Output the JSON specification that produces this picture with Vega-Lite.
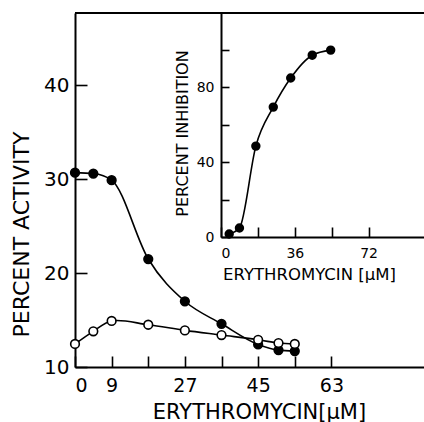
{
  "$schema": "https://vega.github.io/schema/vega-lite/v6.json",
  "padding": {"left": 10, "top": 12, "right": 0, "bottom": 0},
  "width": 350,
  "height": 354,
  "background": "white",
  "view": {"stroke": null},
  "config": {
    "font": "DejaVu Sans",
    "view": {"stroke": null},
    "axis": {
      "domainColor": "black", "domainWidth": 2, "tickColor": "black", "tickWidth": 1.6,
      "labelColor": "black", "titleColor": "black", "grid": false,
      "labelFont": "DejaVu Sans", "titleFont": "DejaVu Sans", "titleFontWeight": "normal"
    }
  },
  "layer": [
    {
      "data": {"values": [
        {"conc": 0, "activity": 30.7, "series": "closed"},
        {"conc": 4.5, "activity": 30.6, "series": "closed"},
        {"conc": 9, "activity": 29.9, "series": "closed"},
        {"conc": 18, "activity": 21.5, "series": "closed"},
        {"conc": 27, "activity": 17.0, "series": "closed"},
        {"conc": 36, "activity": 14.6, "series": "closed"},
        {"conc": 45, "activity": 12.4, "series": "closed"},
        {"conc": 50, "activity": 11.8, "series": "closed"},
        {"conc": 54, "activity": 11.7, "series": "closed"},
        {"conc": 0, "activity": 12.45, "series": "open"},
        {"conc": 4.5, "activity": 13.8, "series": "open"},
        {"conc": 9, "activity": 14.9, "series": "open"},
        {"conc": 18, "activity": 14.5, "series": "open"},
        {"conc": 27, "activity": 13.9, "series": "open"},
        {"conc": 36, "activity": 13.4, "series": "open"},
        {"conc": 45, "activity": 12.9, "series": "open"},
        {"conc": 50, "activity": 12.55, "series": "open"},
        {"conc": 54, "activity": 12.45, "series": "open"}
      ]},
      "encoding": {
        "x": {"field": "conc", "type": "quantitative",
          "scale": {"domain": [0, 86], "nice": false, "zero": false},
          "axis": {"orient": "bottom", "values": [0, 9, 18, 27, 36, 45, 54, 63],
            "labelExpr": "(datum.value == 18 || datum.value == 36 || datum.value == 54) ? '' : datum.label",
            "tickSize": -11, "labelPadding": 20, "labelFontSize": 19,
            "title": "ERYTHROMYCIN[μM]", "titleFontSize": 21, "titlePadding": 6, "titleX": 184}},
        "y": {"field": "activity", "type": "quantitative",
          "scale": {"domain": [10, 47.7], "nice": false, "zero": false},
          "axis": {"orient": "left", "values": [10, 20, 30, 40], "tickSize": -12, "labelPadding": 18, "labelFontSize": 20,
            "title": "PERCENT ACTIVITY", "titleFontSize": 22, "titlePadding": 10, "titleY": 221}}
      },
      "layer": [
        {"transform": [{"filter": "datum.series == 'closed'"}],
         "mark": {"type": "line", "interpolate": "monotone", "stroke": "black", "strokeWidth": 1.6}},
        {"transform": [{"filter": "datum.series == 'open'"}],
         "mark": {"type": "line", "interpolate": "catmull-rom", "stroke": "black", "strokeWidth": 1.6}},
        {"mark": {"type": "point", "shape": "circle", "size": 75, "stroke": "black", "strokeWidth": 1.6, "opacity": 1, "filled": false},
         "encoding": {"fill": {"field": "series", "type": "nominal",
           "scale": {"domain": ["closed", "open"], "range": ["black", "white"]}, "legend": null}}},
        {"mark": {"type": "rule", "stroke": "black", "strokeWidth": 2},
         "encoding": {"y": {"datum": 47.7}, "x": null}}
      ]
    },
    {
      "data": {"values": [
        {"conc": 4, "inhibition": 1.6},
        {"conc": 9, "inhibition": 4.8},
        {"conc": 17, "inhibition": 48.5},
        {"conc": 25.5, "inhibition": 69.3},
        {"conc": 34, "inhibition": 84.8},
        {"conc": 44.5, "inhibition": 97},
        {"conc": 53.5, "inhibition": 99.7}
      ]},
      "encoding": {
        "x": {"field": "conc", "type": "quantitative",
          "scale": {"domain": [0, 99.5], "range": [146, 350], "nice": false, "zero": false},
          "axis": {"orient": "bottom", "offset": -130, "values": [0, 18, 36, 54, 72],
            "labelExpr": "(datum.value == 18 || datum.value == 54) ? '' : datum.label",
            "tickSize": -10, "labelPadding": 19, "labelFontSize": 14,
            "title": "ERYTHROMYCIN [μM]", "titleFontSize": 16.5, "titlePadding": 6, "titleX": 234}},
        "y": {"field": "inhibition", "type": "quantitative",
          "scale": {"domain": [0, 119.5], "range": [224, 0], "nice": false, "zero": false},
          "axis": {"orient": "left", "offset": -146, "values": [0, 20, 40, 60, 80, 100],
            "labelExpr": "(datum.value == 20 || datum.value == 60 || datum.value == 100) ? '' : datum.label",
            "tickSize": -8, "labelPadding": 15, "labelFontSize": 14,
            "title": "PERCENT INHIBITION", "titleFontSize": 16, "titlePadding": 6, "titleY": 120}}
      },
      "layer": [
        {"mark": {"type": "line", "interpolate": "monotone", "stroke": "black", "strokeWidth": 1.6}},
        {"mark": {"type": "point", "shape": "circle", "size": 55, "fill": "black", "stroke": "black", "opacity": 1, "filled": true}},
        {"mark": {"type": "rule", "stroke": "black", "strokeWidth": 2},
         "encoding": {"x": {"datum": 99.5}, "y": {"datum": 0}, "y2": {"datum": 119.5}}}
      ]
    }
  ],
  "resolve": {
    "scale": {"x": "independent", "y": "independent"},
    "axis": {"x": "independent", "y": "independent"}
  }
}
